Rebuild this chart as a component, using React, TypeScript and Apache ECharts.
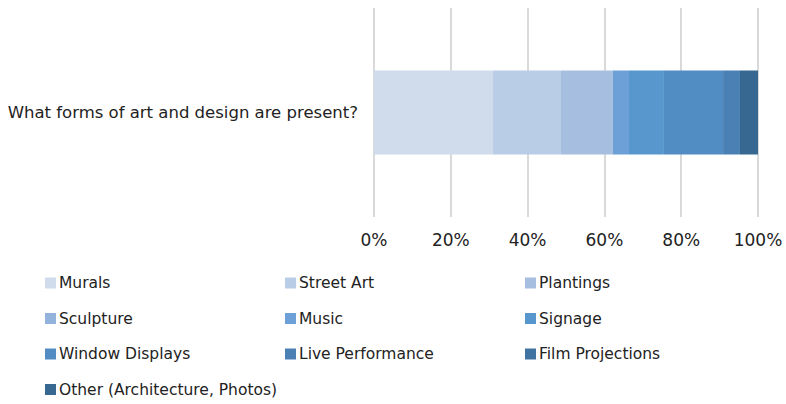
import React, { useEffect, useRef } from "react";
import * as echarts from "echarts";

const categories = ["What forms of art and design are present?"];
const seriesNames = [
  "Murals",
  "Street Art",
  "Plantings",
  "Sculpture",
  "Music",
  "Signage",
  "Window Displays",
  "Live Performance",
  "Film Projections",
  "Other (Architecture, Photos)",
];
const seriesValues = [31.0, 17.7, 13.5, 0, 4.2, 9.1, 15.4, 4.4, 0, 4.7];
const seriesColors = [
  "#D0DCEC",
  "#BACDE6",
  "#A6BFE0",
  "#93B3DC",
  "#6CA0D6",
  "#5896CE",
  "#518CC2",
  "#4A80B4",
  "#3F73A1",
  "#366891",
];
const tickFormat = "{value}%";

const legendColumns = [
  ["Murals", "Sculpture", "Window Displays", "Other (Architecture, Photos)"],
  ["Street Art", "Music", "Live Performance"],
  ["Plantings", "Signage", "Film Projections"],
];

const FONT = "DejaVu Sans";

export default function App() {
  const ref = useRef<HTMLDivElement>(null);
  useEffect(() => {
    document.body.style.margin = "0";
    if (!ref.current) return;
    const chart = echarts.init(ref.current, null, { renderer: "svg" });
    const legendLefts = [45, 285, 525];
    chart.setOption({
      animation: false,
      textStyle: { fontFamily: FONT },
      grid: { left: 374, right: 28, top: 8, bottom: 187, containLabel: false },
      xAxis: {
        type: "value",
        min: 0,
        max: 100,
        interval: 20,
        axisLine: { show: false },
        axisTick: { show: false },
        axisLabel: {
          formatter: tickFormat,
          color: "#222",
          fontSize: 17,
          margin: 14,
          fontFamily: FONT,
        },
        splitLine: { lineStyle: { color: "#D9D9D9", width: 2 } },
      },
      yAxis: {
        type: "category",
        data: categories,
        axisLine: { show: false },
        axisTick: { show: false },
        axisLabel: { color: "#222", fontSize: 16.5, margin: 16, fontFamily: FONT },
      },
      legend: legendColumns.map((col, i) => ({
        orient: "vertical",
        left: legendLefts[i],
        top: 274,
        data: col,
        icon: "rect",
        itemWidth: 11,
        itemHeight: 11,
        itemGap: 17.5,
        padding: 0,
        selectedMode: false,
        textStyle: { fontSize: 15.5, lineHeight: 18, color: "#222", fontFamily: FONT, padding: [0, 0, 0, -2] },
      })),
      series: seriesNames.map((name, i) => ({
        name,
        type: "bar",
        stack: "total",
        barWidth: 84,
        data: [seriesValues[i]],
        itemStyle: { color: seriesColors[i] },
      })),
    });
    return () => chart.dispose();
  }, []);
  return <div ref={ref} style={{ width: 786, height: 404 }} />;
}
